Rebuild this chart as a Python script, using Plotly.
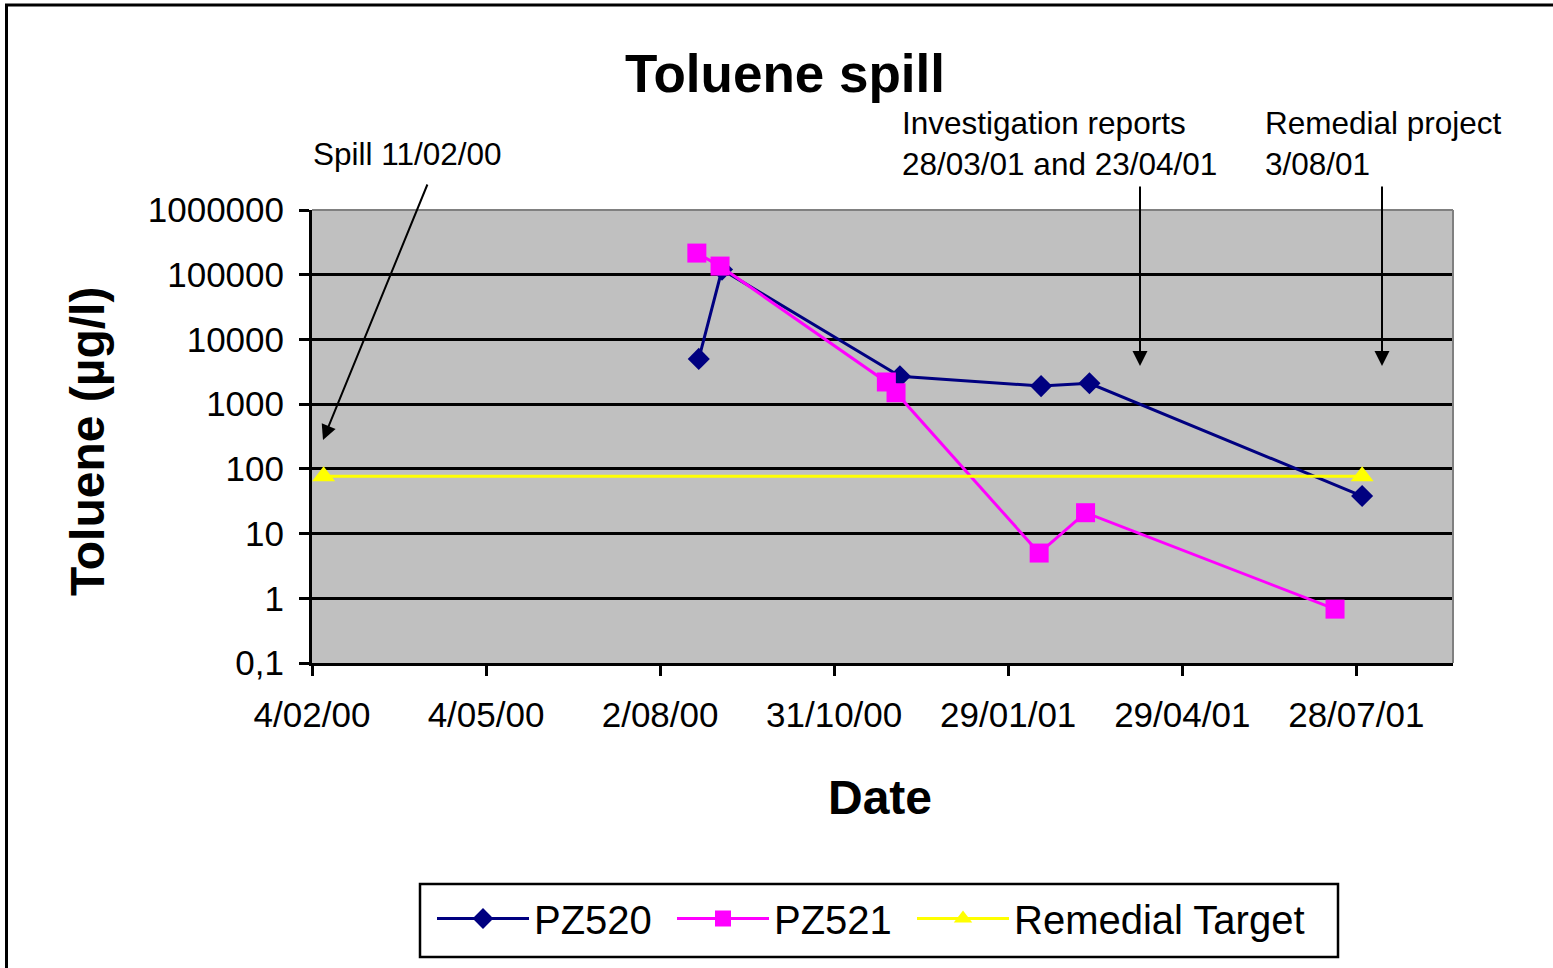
import plotly.graph_objects as go

# ---- data ----
pz520_dates = ["2000-08-22", "2000-09-03", "2000-12-04", "2001-02-15", "2001-03-12", "2001-07-31"]
pz520_vals = [5000, 120000, 2700, 1900, 2100, 38]

pz521_dates = ["2000-08-21", "2000-09-02", "2000-11-27", "2000-12-02", "2001-02-14", "2001-03-10", "2001-07-17"]
pz521_vals = [216000, 136000, 2200, 1500, 5, 21, 0.68]

target_dates = ["2000-02-10", "2001-07-31"]
target_vals = [77, 77]

x_tick_vals = ["2000-02-04", "2000-05-04", "2000-08-02", "2000-10-31", "2001-01-29", "2001-04-29", "2001-07-28"]
x_tick_text = ["4/02/00", "4/05/00", "2/08/00", "31/10/00", "29/01/01", "29/04/01", "28/07/01"]
y_tick_vals = [0.1, 1, 10, 100, 1000, 10000, 100000, 1000000]
y_tick_text = ["0,1", "1", "10", "100", "1000", "10000", "100000", "1000000"]
x_range = ["2000-02-04", "2001-09-16"]

FONT = "Liberation Sans, Arial, sans-serif"
W, H = 1553, 968
L, R, T, B = 312, 100, 210, 305

fig = go.Figure()
fig.add_trace(go.Scatter(x=pz520_dates, y=pz520_vals, name="PZ520", mode="lines+markers",
                         line=dict(color="#000080", width=3), legendwidth=133,
                         marker=dict(symbol="diamond", size=17, color="#000080")))
fig.add_trace(go.Scatter(x=pz521_dates, y=pz521_vals, name="PZ521", mode="lines+markers",
                         line=dict(color="#FF00FF", width=3), legendwidth=133,
                         marker=dict(symbol="square", size=19, color="#FF00FF")))
fig.add_trace(go.Scatter(x=target_dates, y=target_vals, name="Remedial Target", mode="lines+markers",
                         line=dict(color="#FFFF00", width=3),
                         marker=dict(symbol="triangle-up", size=20, color="#FFFF00")))

pw = W - L - R
ph = H - T - B
def px(xp):
    return (xp - L) / pw
def py(yp):
    return (H - B - yp) / ph

annotations = [
    dict(text="<b>Toluene (µg/l)</b>", x=px(87), y=py(442), xref="paper", yref="paper",
         textangle=-90, showarrow=False, font=dict(size=48, color="black", family=FONT),
         xanchor="center", yanchor="middle"),
    dict(text="<b>Date</b>", x=px(880), y=py(797), xref="paper", yref="paper",
         showarrow=False, font=dict(size=48, color="black", family=FONT),
         xanchor="center", yanchor="middle"),
    dict(text="Spill 11/02/00", x=px(311), y=py(154), xref="paper", yref="paper",
         showarrow=False, font=dict(size=31.5, color="black", family=FONT),
         xanchor="left", yanchor="middle"),
    dict(text="Investigation reports<br>28/03/01 and 23/04/01", x=px(900), y=py(144), xref="paper", yref="paper",
         showarrow=False, font=dict(size=31.5, color="black", family=FONT), align="left",
         xanchor="left", yanchor="middle"),
    dict(text="Remedial project<br>3/08/01", x=px(1263), y=py(144), xref="paper", yref="paper",
         showarrow=False, font=dict(size=31.5, color="black", family=FONT), align="left",
         xanchor="left", yanchor="middle"),
]
for (hx, hy, tx, ty) in [(323, 440, 428, 183), (1140, 366, 1140, 185), (1382, 366, 1382, 185)]:
    annotations.append(dict(text="", x=px(hx), y=py(hy), xref="paper", yref="paper",
                            ax=tx - hx, ay=ty - hy, axref="pixel", ayref="pixel",
                            showarrow=True, arrowhead=2, arrowsize=1.5, arrowwidth=2,
                            arrowcolor="black", standoff=0, startstandoff=0))

shapes = [
    # outer chart frame
    dict(type="rect", xref="paper", yref="paper", x0=px(6.5), x1=px(1600), y0=py(1020), y1=py(5),
         line=dict(color="black", width=3), layer="above"),
    # plot-area gray border top & right
    dict(type="line", xref="paper", yref="paper", x0=0, x1=1, y0=1, y1=1,
         line=dict(color="#808080", width=2), layer="above"),
    dict(type="line", xref="paper", yref="paper", x0=1, x1=1, y0=0, y1=1,
         line=dict(color="#808080", width=2), layer="above"),
    # legend box
    dict(type="rect", xref="paper", yref="paper", x0=px(420), x1=px(1338), y0=py(957), y1=py(884),
         line=dict(color="black", width=2.5), fillcolor="white", layer="below"),
]

fig.update_layout(
    width=W, height=H, autosize=False,
    margin=dict(l=L, r=R, t=T, b=B, autoexpand=False),
    paper_bgcolor="white", plot_bgcolor="#C0C0C0",
    font=dict(family=FONT, color="black"),
    title=dict(text="<b>Toluene spill</b>", x=785 / W, y=1 - 73 / H, xref="container", yref="container",
               xanchor="center", yanchor="middle", font=dict(size=53, color="black", family=FONT)),
    showlegend=True,
    legend=dict(orientation="h", x=px(432), y=py(886), xanchor="left", yanchor="top",
                xref="paper", yref="paper", font=dict(size=40, color="black", family=FONT),
                bgcolor="rgba(0,0,0,0)", borderwidth=0, itemwidth=92,
                traceorder="normal"),
    annotations=annotations,
    shapes=shapes,
)
fig.update_xaxes(type="date", range=x_range, tickvals=x_tick_vals, ticktext=x_tick_text,
                 showgrid=False, zeroline=False, showline=True, linecolor="black", linewidth=3,
                 ticks="outside", ticklen=10, tickwidth=3, tickcolor="black",
                 tickfont=dict(size=35, color="black", family=FONT), ticklabelstandoff=9)
fig.update_yaxes(type="log", range=[-1, 6], tickvals=y_tick_vals, ticktext=y_tick_text,
                 showgrid=True, gridcolor="black", gridwidth=3, zeroline=False,
                 showline=True, linecolor="black", linewidth=3,
                 ticks="outside", ticklen=10, tickwidth=3, tickcolor="black",
                 tickfont=dict(size=35, color="black", family=FONT), ticklabelstandoff=8)

fig.write_html("out.html", config={"displayModeBar": False},
               post_script="document.body.style.margin='0';")
